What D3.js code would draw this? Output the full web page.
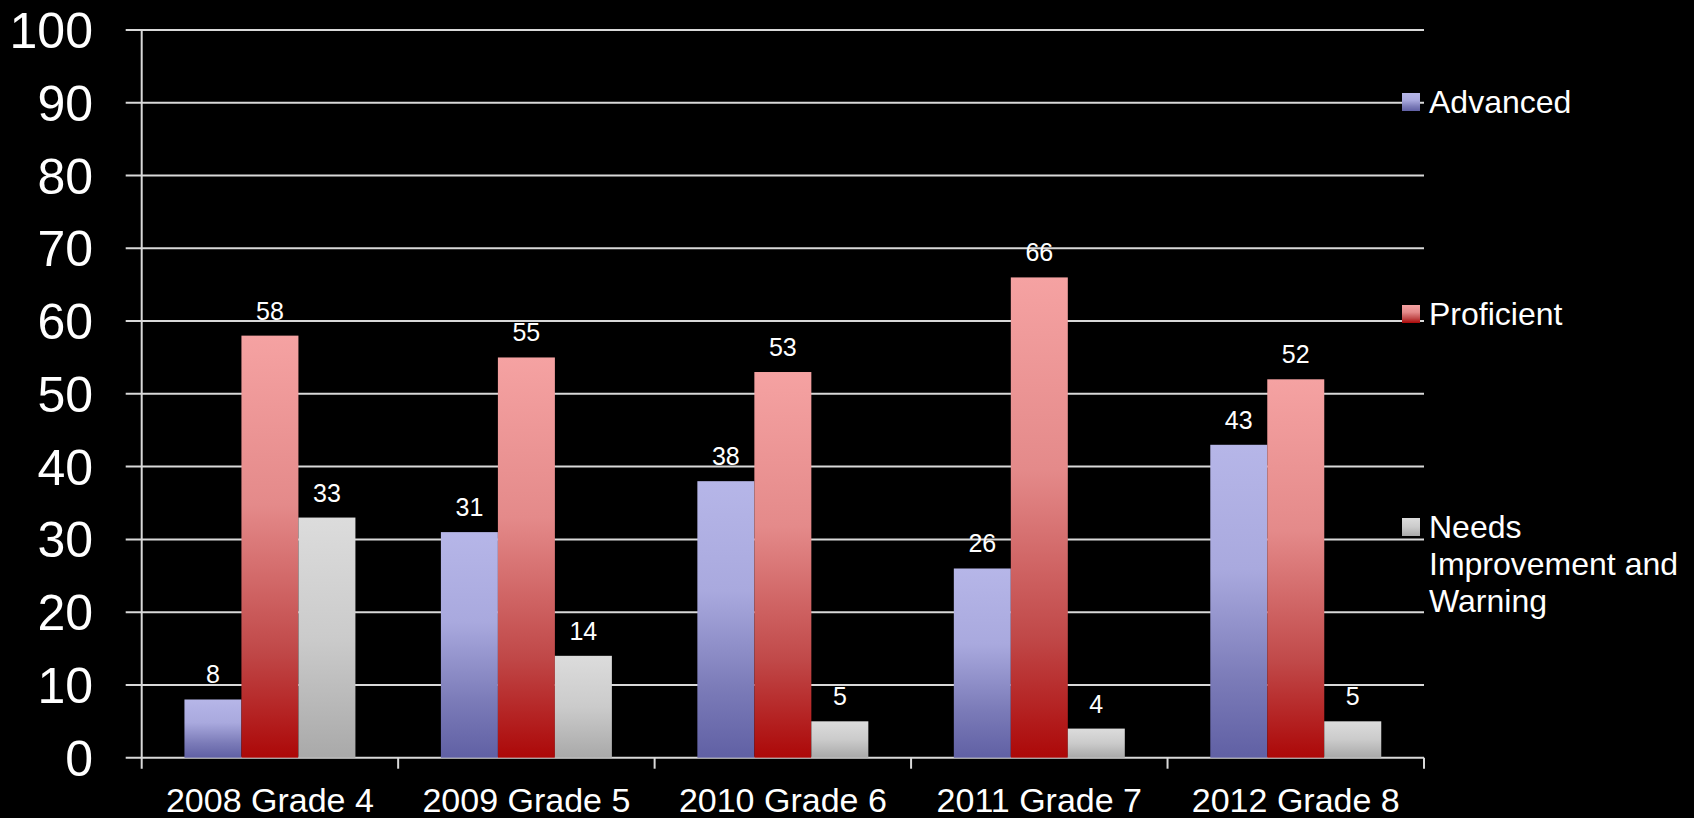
<!DOCTYPE html>
<html>
<head>
<meta charset="utf-8">
<script src="https://cdn.jsdelivr.net/npm/d3@7"></script>
<style>
  html, body { margin: 0; padding: 0; background: #000; }
  text { font-family: "Liberation Sans", Arial, sans-serif; fill: #fff; }
</style>
</head>
<body>
<div id="canvas"></div>
<script>
"use strict"

/* Data */
let categories = ["2008 Grade 4", "2009 Grade 5", "2010 Grade 6", "2011 Grade 7", "2012 Grade 8"];
let seriesNames = ["Advanced", "Proficient", "Needs Improvement and Warning"];
let advanced = [8, 31, 38, 26, 43];
let proficient = [58, 55, 53, 66, 52];
let needsImprovement = [33, 14, 5, 4, 5];
let yTicks = [0, 10, 20, 30, 40, 50, 60, 70, 80, 90, 100];

/* Drawing config */
let svgWidth = 1694;
let svgHeight = 818;
let plotLeft = 141.7;
let plotRight = 1424;
let plotTop = 30;
let plotBottom = 757.7;
let gridColor = "#d9d9d9";

let svg = d3.select("#canvas")
    .append("svg")
    .attr("width", svgWidth)
    .attr("height", svgHeight);

/* gradients, one per series, stretched over each bar */
let gradStops = [
    [["0%", "#b6b6e8"], ["40%", "#a9a9de"], ["75%", "#7b7bb8"], ["100%", "#6060a4"]],
    [["0%", "#f5a2a2"], ["40%", "#e48a8a"], ["75%", "#c04848"], ["100%", "#ac0808"]],
    [["0%", "#dcdcdc"], ["50%", "#cbcbcb"], ["100%", "#a9a9a9"]]
];
let defs = svg.append("defs");
gradStops.forEach(function(stops, i) {
    let g = defs.append("linearGradient")
        .attr("id", "grad" + i)
        .attr("x1", 0).attr("y1", 0)
        .attr("x2", 0).attr("y2", 1);
    stops.forEach(function(s) {
        g.append("stop").attr("offset", s[0]).attr("stop-color", s[1]);
    });
});

let xScale = d3.scaleBand()
    .domain(categories)
    .range([plotLeft, plotRight]);

let xSub = d3.scaleBand()
    .domain(seriesNames)
    .range([0, xScale.bandwidth()])
    .paddingInner(0)
    .paddingOuter(0.75);

let yScale = d3.scaleLinear()
    .domain([0, 100])
    .range([plotBottom, plotTop]);

/* gridlines (with the little outside tick) */
svg.append("g")
    .selectAll("line")
    .data(yTicks)
    .join("line")
    .attr("x1", plotLeft - 16)
    .attr("x2", plotRight)
    .attr("y1", d => yScale(d))
    .attr("y2", d => yScale(d))
    .attr("stroke", gridColor)
    .attr("stroke-width", 2);

/* y axis labels */
svg.append("g")
    .selectAll("text")
    .data(yTicks)
    .join("text")
    .attr("x", 93)
    .attr("y", d => yScale(d))
    .attr("dy", "0.36em")
    .attr("text-anchor", "end")
    .style("font-size", "50px")
    .text(d => d);

/* vertical axis line */
svg.append("line")
    .attr("x1", plotLeft).attr("x2", plotLeft)
    .attr("y1", plotTop).attr("y2", plotBottom + 11)
    .attr("stroke", gridColor)
    .attr("stroke-width", 2);

/* x category boundary ticks */
let boundaries = categories.map(c => xScale(c) + xScale.bandwidth());
svg.append("g")
    .selectAll("line")
    .data(boundaries)
    .join("line")
    .attr("x1", d => d).attr("x2", d => d)
    .attr("y1", plotBottom).attr("y2", plotBottom + 11)
    .attr("stroke", gridColor)
    .attr("stroke-width", 2);

/* x labels */
svg.append("g")
    .selectAll("text")
    .data(categories)
    .join("text")
    .attr("x", d => xScale(d) + xScale.bandwidth() / 2)
    .attr("y", 812)
    .attr("text-anchor", "middle")
    .style("font-size", "34px")
    .text(d => d);

/* bars */
let allSeries = [advanced, proficient, needsImprovement];
let barData = [];
categories.forEach(function(c, ci) {
    seriesNames.forEach(function(s, si) {
        barData.push({cat: c, series: s, si: si, value: allSeries[si][ci]});
    });
});

let groups = svg.append("g");
groups.selectAll("rect")
    .data(barData)
    .join("rect")
    .attr("x", d => xScale(d.cat) + xSub(d.series))
    .attr("width", xSub.bandwidth())
    .attr("y", d => yScale(d.value))
    .attr("height", d => yScale(0) - yScale(d.value))
    .attr("fill", d => "url(#grad" + d.si + ")");

/* value labels */
groups.selectAll("text")
    .data(barData)
    .join("text")
    .attr("x", d => xScale(d.cat) + xSub(d.series) + xSub.bandwidth() / 2)
    .attr("y", d => yScale(d.value) - 16)
    .attr("text-anchor", "middle")
    .style("font-size", "25px")
    .text(d => d.value);

/* legend */
let legendY = [102, 314, 527];
let legendLines = [["Advanced"], ["Proficient"], ["Needs", "Improvement and", "Warning"]];
let legend = svg.append("g");
seriesNames.forEach(function(s, i) {
    legend.append("rect")
        .attr("x", 1402)
        .attr("y", legendY[i] - 9)
        .attr("width", 18)
        .attr("height", 18)
        .attr("fill", "url(#grad" + i + ")");
    let t = legend.append("text")
        .attr("x", 1429)
        .attr("y", legendY[i] + 11)
        .style("font-size", "32px");
    legendLines[i].forEach(function(line, li) {
        t.append("tspan")
            .attr("x", 1429)
            .attr("dy", li === 0 ? 0 : 37)
            .text(line);
    });
});
</script>
</body>
</html>
